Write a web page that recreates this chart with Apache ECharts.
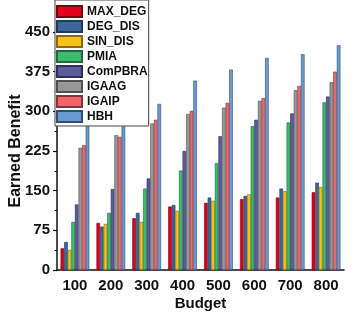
<!DOCTYPE html>
<html>
<head>
<meta charset="utf-8">
<script src="https://cdn.jsdelivr.net/npm/echarts@6/dist/echarts.min.js"></script>
<style>html,body{margin:0;padding:0;background:#fff}#c{width:354px;height:314px}</style>
</head>
<body>
<div id="c"></div>
<script>
const categories = ['100','200','300','400','500','600','700','800'];
const yTicks = [0, 75, 150, 225, 300, 375, 450];
const MAX_DEG = [41, 89, 98, 120, 127, 134, 137, 147];
const DEG_DIS = [53, 82, 108, 123, 137, 140, 154, 165];
const SIN_DIS = [38, 87, 91, 112, 131, 143, 149, 157];
const PMIA    = [91, 108, 154, 188, 202, 272, 279, 317];
const ComPBRA = [124, 153, 173, 225, 253, 284, 296, 328];
const IGAAG   = [231, 255, 277, 295, 307, 320, 340, 355];
const IGAIP   = [236, 252, 284, 301, 316, 325, 348, 375];
const HBH     = [278, 292, 314, 358, 379, 401, 408, 425];

const seriesDefs = [
  ['MAX_DEG', MAX_DEG, '#e2001a', '#7a0010'],
  ['DEG_DIS', DEG_DIS, '#3b679c', '#1f3a5c'],
  ['SIN_DIS', SIN_DIS, '#f6c218', '#8a6a10'],
  ['PMIA', PMIA, '#3fba6b', '#1f6a3a'],
  ['ComPBRA', ComPBRA, '#5c5c9a', '#2e2e5a'],
  ['IGAAG', IGAAG, '#979797', '#505050'],
  ['IGAIP', IGAIP, '#f0646c', '#8a3038'],
  ['HBH', HBH, '#6a9bd0', '#2f4f7a']
];

const font = 'Liberation Sans, Arial, sans-serif';
const chart = echarts.init(document.getElementById('c'), null, {renderer: 'canvas'});
chart.setOption({
  animation: false,
  grid: {left: 57, right: 10, top: 32, bottom: 44, outerBoundsMode: 'none', containLabel: false},
  legend: {
    left: 55, top: 0, orient: 'vertical',
    itemWidth: 25, itemHeight: 11, itemGap: 2,
    padding: [5, 1, 3, 1],
    borderColor: '#444', borderWidth: 1, backgroundColor: '#fff',
    icon: 'rect',
    textStyle: {fontFamily: font, fontWeight: 'bold', fontSize: 12, lineHeight: 13, color: '#111'},
    data: seriesDefs.map(d => d[0])
  },
  xAxis: [{
    type: 'category', data: categories,
    name: 'Budget', nameLocation: 'middle', nameGap: 26, nameMoveOverlap: false,
    nameTextStyle: {fontFamily: font, fontWeight: 'bold', fontSize: 15, color: '#111'},
    axisLine: {lineStyle: {color: '#111', width: 1.5}},
    axisTick: {alignWithLabel: true, length: 4, lineStyle: {color: '#111', width: 1.2}},
    axisLabel: {fontFamily: font, fontWeight: 'bold', fontSize: 15, color: '#111', margin: 8}
  }, {
    type: 'category', data: categories, position: 'bottom',
    axisLine: {show: false},
    axisTick: {alignWithLabel: false, length: 2.5, lineStyle: {color: '#111', width: 1}},
    axisLabel: {show: false}
  }],
  yAxis: {
    type: 'value', min: yTicks[0], max: yTicks[yTicks.length - 1], interval: 75,
    name: 'Earned Benefit', nameLocation: 'middle', nameGap: 33, nameMoveOverlap: false,
    nameTextStyle: {fontFamily: font, fontWeight: 'bold', fontSize: 16, color: '#111'},
    axisLine: {show: true, lineStyle: {color: '#111', width: 1.5}},
    axisTick: {show: true, length: 4, lineStyle: {color: '#111', width: 1.2}},
    minorTick: {show: true, splitNumber: 2, length: 2.5, lineStyle: {color: '#111', width: 1}},
    splitLine: {show: false},
    axisLabel: {fontFamily: font, fontWeight: 'bold', fontSize: 15, color: '#111', margin: 7}
  },
  series: seriesDefs.map(d => ({
    name: d[0], type: 'bar', data: d[1],
    barGap: '0%', barCategoryGap: '20%',
    itemStyle: {color: d[2], borderColor: d[3], borderWidth: 0.6}
  }))
});
</script>
</body>
</html>
